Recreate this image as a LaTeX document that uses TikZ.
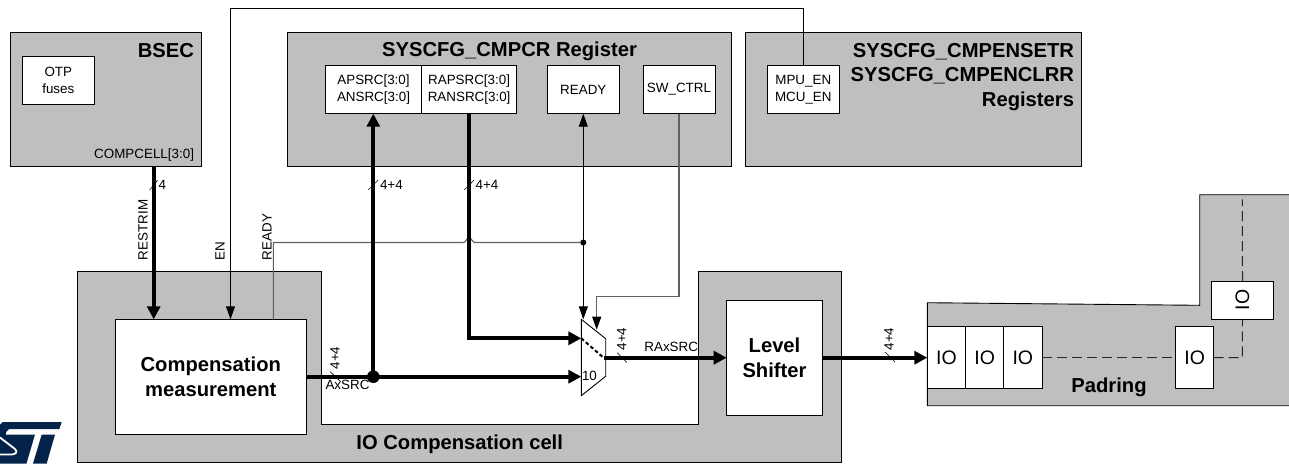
\documentclass[tikz,border=0pt]{standalone}
\usepackage{fontspec}
\setmainfont{Liberation Sans}
\usetikzlibrary{arrows.meta,calc}
\definecolor{panel}{HTML}{BFBFBF}
\definecolor{stblue}{HTML}{03234B}
\definecolor{wire}{HTML}{606060}
\newcommand{\smalltxt}{\fontsize{13.4}{16.5}\selectfont}
\newcommand{\bigtxt}{\fontsize{20.2}{24.3}\selectfont\bfseries}
\newcommand{\iotxt}{\fontsize{19.5}{22}\selectfont}
\newcommand{\blk}[6]{\node[#1,minimum width={(#5)-(#3)},minimum height={(#6)-(#4)}] (#2) at ({((#3)+(#5))/2},{((#4)+(#6))/2})}
\tikzset{
  x=1pt,y=-1pt,
  panelbox/.style={draw=black,fill=panel,line width=0.9pt,rectangle,inner sep=0pt,outer sep=0pt},
  whitebox/.style={draw=black,fill=white,line width=0.9pt,rectangle,inner sep=0pt,outer sep=0pt,align=center,font=\smalltxt},
  bigbox/.style={whitebox,font=\bigtxt},
  iobox/.style={whitebox,font=\iotxt},
  panelshape/.style={draw=black,fill=panel,line width=0.9pt,line join=miter},
  thin wire/.style={line width=0.9pt,draw=black},
  gray wire/.style={line width=1.1pt,draw=wire},
  bus/.style={line width=3.8pt,draw=black},
  thin arrow/.style={thin wire,-{Triangle[length=13pt,width=9pt]}},
  gray arrow/.style={gray wire,-{Triangle[length=13pt,width=9pt,color=black]}},
  bus arrow/.style={bus,-{Triangle[length=13pt,width=13pt]}},
  tick/.style={line width=0.6pt,draw=black},
  lbl/.style={font=\smalltxt,inner sep=0pt,outer sep=0pt,align=center},
  rlbl/.style={lbl,rotate=90},
  title/.style={font=\bigtxt,inner sep=0pt,outer sep=0pt,align=center},
  dashwire/.style={line width=1pt,draw=black!85,dash pattern=on 10pt off 5pt},
}
\begin{document}
\begin{tikzpicture}
\useasboundingbox (0,0) rectangle (1289,464);
% logo
\fill[stblue] (0,424.5) -- (3,422) -- (61.7,422) -- (59.3,429) -- (9,429) -- (6,432) -- (6,437) -- (0,437) -- cycle;
\fill[stblue] (8,434.5) -- (35,434.5) -- (26.5,463.5) -- (0,463.5) -- (0,437) -- cycle;
\draw[white,line width=1.8pt] (0,437.5) -- (15,449) .. controls (18,452) and (16,454) .. (12,454.5) -- (0,454.5);
\fill[stblue] (41.7,434.5) -- (55,434.5) -- (46.7,463.5) -- (33,463.5) -- cycle;
% panels
\blk{panelbox}{bsec}{10.4}{32.4}{201.6}{166}{};
\blk{panelbox}{cmpcr}{287.5}{32.4}{731.7}{166}{};
\blk{panelbox}{enset}{745.7}{32.4}{1081}{166}{};
\draw[panelshape] (77.5,271.3) -- (321,271.3) -- (321,424.3) -- (698.3,424.3) -- (698.3,271.3) -- (841,271.3) -- (841,462.7) -- (77.5,462.7) -- cycle;
\draw[panelshape] (1289,194.7) -- (1199.7,194.7) -- (1199.7,305.3) -- (927.3,302.7) -- (927.3,405.7) -- (1289,405.7);
% inner boxes
\blk{whitebox}{otp}{22.3}{56}{94.3}{104.3}{OTP\\fuses};
\blk{whitebox}{apsrc}{325.5}{65.3}{421.5}{113.7}{APSRC[3:0]\\ANSRC[3:0]};
\blk{whitebox}{rapsrc}{421.5}{65.3}{516.7}{113.7}{RAPSRC[3:0]\\RANSRC[3:0]};
\blk{whitebox}{ready}{547.3}{65.3}{619.3}{113.7}{READY};
\blk{whitebox}{swctrl}{643}{65.3}{715}{113.7}{SW\_CTRL};
\blk{whitebox}{mpu}{767.3}{65.3}{839.3}{113.7}{MPU\_EN\\MCU\_EN};
\blk{bigbox}{comp}{115.3}{319.3}{306.3}{434}{Compensation\\measurement};
\blk{bigbox}{level}{726.7}{300.3}{822.3}{415}{Level\\Shifter};
\blk{iobox}{ioa}{927.3}{326.3}{965.7}{388.7}{IO};
\blk{iobox}{iob}{965.7}{326.3}{1003.7}{388.7}{IO};
\blk{iobox}{ioc}{1003.7}{326.3}{1042}{388.7}{IO};
\blk{iobox}{iod}{1175.7}{326.3}{1213.7}{388.7}{IO};
\blk{iobox}{ioe}{1211.3}{281}{1273.7}{319}{\rotatebox{90}{IO}};
% panel titles
\node[title,anchor=east] (tbsec) at (194,50.5) {BSEC};
\node[lbl,anchor=east] (tcomp) at (194,154.7) {COMPCELL[3:0]};
\node[title] (tcmpcr) at (509.5,51.5) {SYSCFG\_CMPCR Register};
\node[title,align=right,anchor=east] (tenset) at (1074,77) {SYSCFG\_CMPENSETR\\SYSCFG\_CMPENCLRR\\Registers};
\node[title] (tcell) at (459.7,444.5) {IO Compensation cell};
\node[title] (tpad) at (1109,387.5) {Padring};
% mux
\draw[thin wire,line join=miter,fill=white] (581.3,319.3) coordinate (muxtl) -- (605.7,338.7) coordinate (muxtr) -- (605.7,376.3) coordinate (muxbr) -- (581.3,395.7) coordinate (muxbl) -- cycle;
\coordinate (muxin1) at (581.3,338.3);
\coordinate (muxin0) at (581.3,376.7);
\coordinate (muxout) at (603.5,357.7);
\coordinate (muxsel) at (596.7,329.7);
\draw[line width=2pt,draw=black,dash pattern=on 3.5pt off 2.6pt] (muxin1) -- (muxout);
\node[lbl,anchor=west] (ten) at (582,376) {10};
% thin wires
\draw[thin arrow] (803.3,0 |- mpu.north) -- (803.3,8.3) -- (230.5,8.3) -- (230.5,0 |- comp.north);
\draw[thin arrow] (583.3,242.5) coordinate (rdot) -- (583.3,0 |- ready.south);
\draw[thin arrow] (rdot) -- (583.3,0 |- muxtl);
\draw[gray wire] (273.3,0 |- comp.north) -- (273.3,242.5) -- (463.5,242.5) .. controls (466,242.5) and (466,238) .. (469,238) .. controls (472,238) and (472,242.5) .. (475,242.5) -- (rdot);
\fill[black] (rdot) circle (3pt);
\draw[gray arrow] (679,0 |- swctrl.south) -- (679,296.3) -- (596.7,296.3) -- (muxsel);
% buses
\draw[bus arrow] (153.7,0 |- bsec.south) -- (153.7,0 |- comp.north);
\draw[bus arrow] (469,0 |- rapsrc.south) -- (469,338.3) -- (muxin1);
\draw[bus arrow] (comp.east |- muxin0) -- (muxin0);
\coordinate (jn) at (373.3,376.7);
\draw[bus arrow] (jn) -- (373.3,0 |- apsrc.south);
\fill[black] (jn) circle (6.3pt);
\draw[bus arrow] (muxout) -- (level.west |- muxout);
\draw[bus arrow] (level.east |- muxout) -- (ioa.west |- muxout);
% dashed padring
\draw[dashwire] (ioc.east |- muxout) -- (iod.west |- muxout);
\draw[dashwire] (iod.east |- muxout) -- (1242.3,357.7) -- (ioe.south);
\draw[dashwire] (ioe.north) -- (1242.3,199.3);
% bus ticks
\draw[tick] (149.7,190) -- (157.7,180);
\draw[tick] (368.3,190) -- (378.3,180);
\draw[tick] (464.3,190) -- (474,180);
\draw[tick] (330,371.5) -- (341,382);
\draw[tick] (617.3,352.7) -- (626.7,362.3);
\draw[tick] (885,352) -- (895,362);
% labels
\node[lbl,anchor=west] (w1) at (158.5,185) {4};
\node[lbl,anchor=west] (w2) at (380,185) {4+4};
\node[lbl,anchor=west] (w3) at (475.7,185) {4+4};
\node[rlbl] (w4) at (335,358) {4+4};
\node[rlbl] (w5) at (621.7,339) {4+4};
\node[rlbl] (w6) at (889,339) {4+4};
\node[rlbl,anchor=west] (lrest) at (143,260) {RESTRIM};
\node[rlbl,anchor=west] (len) at (220,260) {EN};
\node[rlbl,anchor=west] (lrdy) at (267,260) {READY};
\node[lbl] (laxs) at (347.5,385.3) {AxSRC};
\node[lbl,anchor=east] (lraxs) at (698,347) {RAxSRC};
\end{tikzpicture}
\end{document}
